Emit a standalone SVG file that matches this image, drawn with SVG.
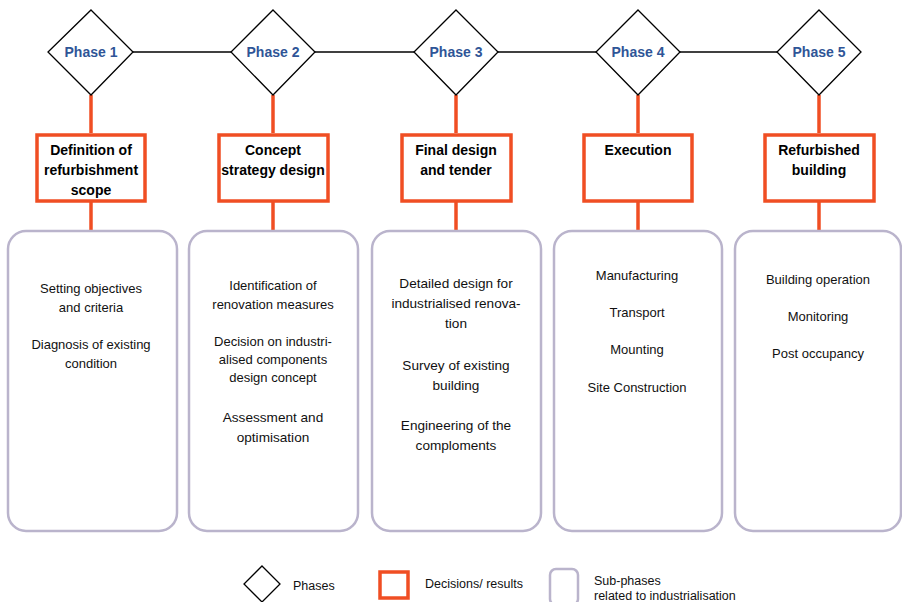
<svg xmlns="http://www.w3.org/2000/svg" width="902" height="602" viewBox="0 0 902 602">
<style>
.dia{fill:#ffffff;stroke:#000000;stroke-width:1.3}
.dec{fill:#ffffff;stroke:#f04e23;stroke-width:3.5}
.sub{fill:#ffffff;stroke:#bab4cc;stroke-width:2.5}
.ph{font-family:"Liberation Sans",Arial,sans-serif;font-size:14px;font-weight:bold;fill:#2f5597;text-anchor:middle}
.tt{font-family:"Liberation Sans",Arial,sans-serif;font-size:14px;font-weight:bold;fill:#000;text-anchor:middle}
.st{font-family:"Liberation Sans",Arial,sans-serif;font-size:13px;fill:#111;text-anchor:middle}
.st2{font-family:"Liberation Sans",Arial,sans-serif;font-size:13.6px;fill:#111;text-anchor:middle}
.lg{font-family:"Liberation Sans",Arial,sans-serif;font-size:12.5px;fill:#111}
.ol{stroke:#f04e23;stroke-width:3.5;fill:none}
.bl{stroke:#000;stroke-width:1.3;fill:none}
</style>
<g id="connectors">
<line class="bl" x1="133" y1="52" x2="777" y2="52"/>
<line class="ol" x1="91" y1="95" x2="91" y2="133"/>
<line class="ol" x1="91" y1="202" x2="91" y2="231"/>
<line class="ol" x1="273" y1="95" x2="273" y2="133"/>
<line class="ol" x1="273" y1="202" x2="273" y2="231"/>
<line class="ol" x1="456" y1="95" x2="456" y2="133"/>
<line class="ol" x1="456" y1="202" x2="456" y2="231"/>
<line class="ol" x1="638" y1="95" x2="638" y2="133"/>
<line class="ol" x1="638" y1="202" x2="638" y2="231"/>
<line class="ol" x1="819" y1="95" x2="819" y2="133"/>
<line class="ol" x1="819" y1="202" x2="819" y2="231"/>
</g>
<g id="phase1"><polygon class="dia" points="91,10 133,52 91,95 48,52"/><text class="ph" x="91" y="57">Phase 1</text></g>
<g id="phase2"><polygon class="dia" points="273,10 315,52 273,95 231,52"/><text class="ph" x="273" y="57">Phase 2</text></g>
<g id="phase3"><polygon class="dia" points="456,10 498,52 456,95 414,52"/><text class="ph" x="456" y="57">Phase 3</text></g>
<g id="phase4"><polygon class="dia" points="638,10 680,52 638,95 596,52"/><text class="ph" x="638" y="57">Phase 4</text></g>
<g id="phase5"><polygon class="dia" points="819,10 861,52 819,95 777,52"/><text class="ph" x="819" y="57">Phase 5</text></g>

<g id="decision1"><rect class="dec" x="37" y="135" width="108" height="66"/>
<text class="tt" x="91" y="155">Definition of</text><text class="tt" x="91" y="175">refurbishment</text><text class="tt" x="91" y="195">scope</text></g>
<g id="decision2"><rect class="dec" x="219" y="135" width="109" height="66"/>
<text class="tt" x="273" y="155">Concept</text><text class="tt" x="273" y="175">strategy design</text></g>
<g id="decision3"><rect class="dec" x="402" y="135" width="109" height="66"/>
<text class="tt" x="456" y="155">Final design</text><text class="tt" x="456" y="175">and tender</text></g>
<g id="decision4"><rect class="dec" x="584" y="135" width="108" height="66"/>
<text class="tt" x="638" y="155">Execution</text></g>
<g id="decision5"><rect class="dec" x="765" y="135" width="109" height="66"/>
<text class="tt" x="819" y="155">Refurbished</text><text class="tt" x="819" y="175">building</text></g>

<g id="sub1"><rect class="sub" x="8" y="231" width="169" height="300" rx="18"/>
<text class="st" x="91" y="293">Setting objectives</text><text class="st" x="91" y="312">and criteria</text>
<text class="st" x="91" y="349">Diagnosis of existing</text><text class="st" x="91" y="368">condition</text></g>
<g id="sub2"><rect class="sub" x="189" y="231" width="169" height="300" rx="18"/>
<text class="st" x="273" y="290">Identification of</text><text class="st" x="273" y="309">renovation measures</text>
<text class="st" x="273" y="346">Decision on industri-</text><text class="st" x="273" y="364">alised components</text><text class="st" x="273" y="382">design concept</text>
<text class="st2" x="273" y="422">Assessment and</text><text class="st2" x="273" y="442">optimisation</text></g>
<g id="sub3"><rect class="sub" x="372" y="231" width="169" height="300" rx="18"/>
<text class="st2" x="456" y="288">Detailed design for</text><text class="st2" x="456" y="308">industrialised renova-</text><text class="st2" x="456" y="328">tion</text>
<text class="st2" x="456" y="370">Survey of existing</text><text class="st2" x="456" y="390">building</text>
<text class="st2" x="456" y="430">Engineering of the</text><text class="st2" x="456" y="450">comploments</text></g>
<g id="sub4"><rect class="sub" x="554" y="231" width="168" height="300" rx="18"/>
<text class="st" x="637" y="280">Manufacturing</text><text class="st" x="637" y="317">Transport</text>
<text class="st" x="637" y="354">Mounting</text><text class="st" x="637" y="392">Site Construction</text></g>
<g id="sub5"><rect class="sub" x="735" y="231" width="166" height="300" rx="18"/>
<text class="st" x="818" y="284">Building operation</text><text class="st" x="818" y="321">Monitoring</text>
<text class="st" x="818" y="358">Post occupancy</text></g>

<g id="legend">
<polygon class="dia" points="262,566 280,584 262,602 244,584"/>
<text class="lg" x="293" y="590">Phases</text>
<rect class="dec" x="380" y="572" width="28" height="26"/>
<text class="lg" x="425" y="588">Decisions/ results</text>
<rect class="sub" x="550" y="569" width="28" height="36" rx="6"/>
<text class="lg" x="594" y="585">Sub-phases</text>
<text class="lg" x="594" y="600">related to industrialisation</text>
</g>
</svg>
